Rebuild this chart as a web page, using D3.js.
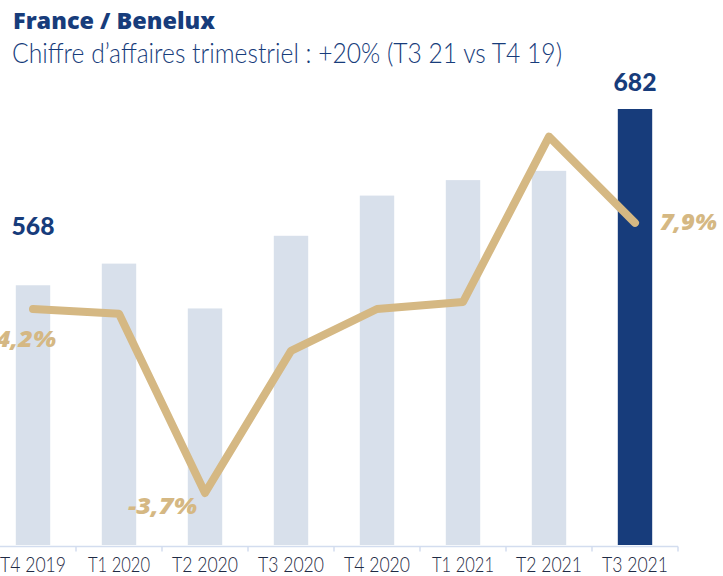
<!DOCTYPE html>
<html>
<head>
<meta charset="utf-8">
<script src="https://cdn.jsdelivr.net/npm/d3@7"></script>
<style>
  body { margin: 0; background: #fff; }
  svg { display: block; }
</style>
</head>
<body>
<script>
// trimestres
var quarters = ["T4 2019", "T1 2020", "T2 2020", "T3 2020", "T4 2020", "T1 2021", "T2 2021", "T3 2021"];
// chiffre d'affaires (barres)
var revenue = [568, 582, 553, 600, 626, 636, 642, 682];
// croissance (ligne), en %
var growth = [4.2, 4.0, -3.7, 2.4, 4.2, 4.5, 11.6, 7.9];
// etiquettes affichees
var revenueLabels = ["568", "682"];
var growthLabels = ["4,2%", "-3,7%", "7,9%"];

var w = 723, h = 576;
var navy = "#173c7b", pale = "#d8e0eb", gold = "#d5b883";

var svg = d3.select("body").append("svg")
    .attr("width", w)
    .attr("height", h);

// titres
svg.append("text")
    .attr("x", 13).attr("y", 29)
    .attr("font-family", "Open Sans").attr("font-weight", 800)
    .attr("font-size", "23px").attr("fill", navy)
    .attr("textLength", 202).attr("lengthAdjust", "spacingAndGlyphs")
    .text("France / Benelux");
svg.append("text")
    .attr("x", 12).attr("y", 63)
    .attr("font-family", "Lato").attr("font-weight", 300)
    .attr("font-size", "28px").attr("fill", navy)
    .attr("textLength", 550).attr("lengthAdjust", "spacingAndGlyphs")
    .text("Chiffre d\u2019affaires trimestriel : +20% (T3 21 vs T4 19)");

var x = d3.scaleBand()
    .domain(quarters)
    .range([-10, 678])
    .paddingInner(0.6)
    .paddingOuter(0.3);

var y = d3.scaleLinear()
    .domain([400, 682])
    .range([545, 109]);

var y2 = d3.scaleLinear()
    .domain([-4, 12])
    .range([500, 127.3]);

// barres
svg.selectAll("rect.bar")
    .data(revenue)
    .enter()
    .append("rect")
    .attr("class", "bar")
    .attr("x", function(d, i) { return x(quarters[i]); })
    .attr("y", function(d) { return y(d); })
    .attr("width", x.bandwidth())
    .attr("height", function(d) { return y(400) - y(d); })
    .attr("fill", function(d, i) { return i == quarters.length - 1 ? navy : pale; });

// axe
var axis = svg.append("g").attr("transform", "translate(0,546.5)");
axis.append("line")
    .attr("x1", 0).attr("x2", 678)
    .attr("stroke", "#d3ddef").attr("stroke-width", 1.5);
var step = x.step();
var start = x(quarters[0]) - (step - x.bandwidth()) / 2;
axis.selectAll("line.tick")
    .data(d3.range(quarters.length + 1))
    .enter()
    .append("line")
    .attr("class", "tick")
    .attr("x1", function(i) { return start + i * step; })
    .attr("x2", function(i) { return start + i * step; })
    .attr("y1", 0).attr("y2", 5)
    .attr("stroke", "#d3ddef").attr("stroke-width", 1.5);
axis.selectAll("text")
    .data(quarters)
    .enter()
    .append("text")
    .attr("x", function(d) { return x(d) + x.bandwidth() / 2; })
    .attr("y", 25.5)
    .attr("text-anchor", "middle")
    .attr("font-family", "Lato").attr("font-weight", 300)
    .attr("font-size", "21px").attr("fill", "#1f2b45")
    .attr("textLength", function(d) { return d.indexOf("T1") == 0 ? 62 : 66; })
    .attr("lengthAdjust", "spacingAndGlyphs")
    .text(function(d) { return d; });

// ligne
var line = d3.line()
    .x(function(d, i) { return x(quarters[i]) + x.bandwidth() / 2; })
    .y(function(d) { return y2(d); });

svg.append("path")
    .datum(growth)
    .attr("d", line)
    .attr("fill", "none")
    .attr("stroke", gold)
    .attr("stroke-width", 8)
    .attr("stroke-linecap", "round")
    .attr("stroke-linejoin", "round");

// etiquettes des valeurs
var vl = [
    {i: 0, dy: -50, text: revenueLabels[0]},
    {i: 7, dy: -18, text: revenueLabels[1]}
];
svg.selectAll("text.val")
    .data(vl)
    .enter()
    .append("text")
    .attr("class", "val")
    .attr("x", function(d) { return x(quarters[d.i]) + x.bandwidth() / 2; })
    .attr("y", function(d) { return y(revenue[d.i]) + d.dy; })
    .attr("text-anchor", "middle")
    .attr("font-family", "Lato").attr("font-weight", 900)
    .attr("font-size", "24px").attr("fill", navy)
    .attr("textLength", 43).attr("lengthAdjust", "spacingAndGlyphs")
    .text(function(d) { return d.text; });

// etiquettes des pourcentages
var gl = [
    {i: 0, dx: 23, dy: 38, anchor: "end", len: 60, text: growthLabels[0]},
    {i: 2, dx: -8, dy: 21, anchor: "end", len: 69, text: growthLabels[1]},
    {i: 7, dx: 25, dy: 7, anchor: "start", len: 57, text: growthLabels[2]}
];
svg.selectAll("text.pct")
    .data(gl)
    .enter()
    .append("text")
    .attr("class", "pct")
    .attr("x", function(d) { return x(quarters[d.i]) + x.bandwidth() / 2 + d.dx; })
    .attr("y", function(d) { return y2(growth[d.i]) + d.dy; })
    .attr("text-anchor", function(d) { return d.anchor; })
    .attr("font-family", "Open Sans").attr("font-weight", 800).attr("font-style", "italic")
    .attr("font-size", "23px").attr("fill", gold)
    .attr("textLength", function(d) { return d.len; })
    .attr("lengthAdjust", "spacingAndGlyphs")
    .text(function(d) { return d.text; });
</script>
</body>
</html>
